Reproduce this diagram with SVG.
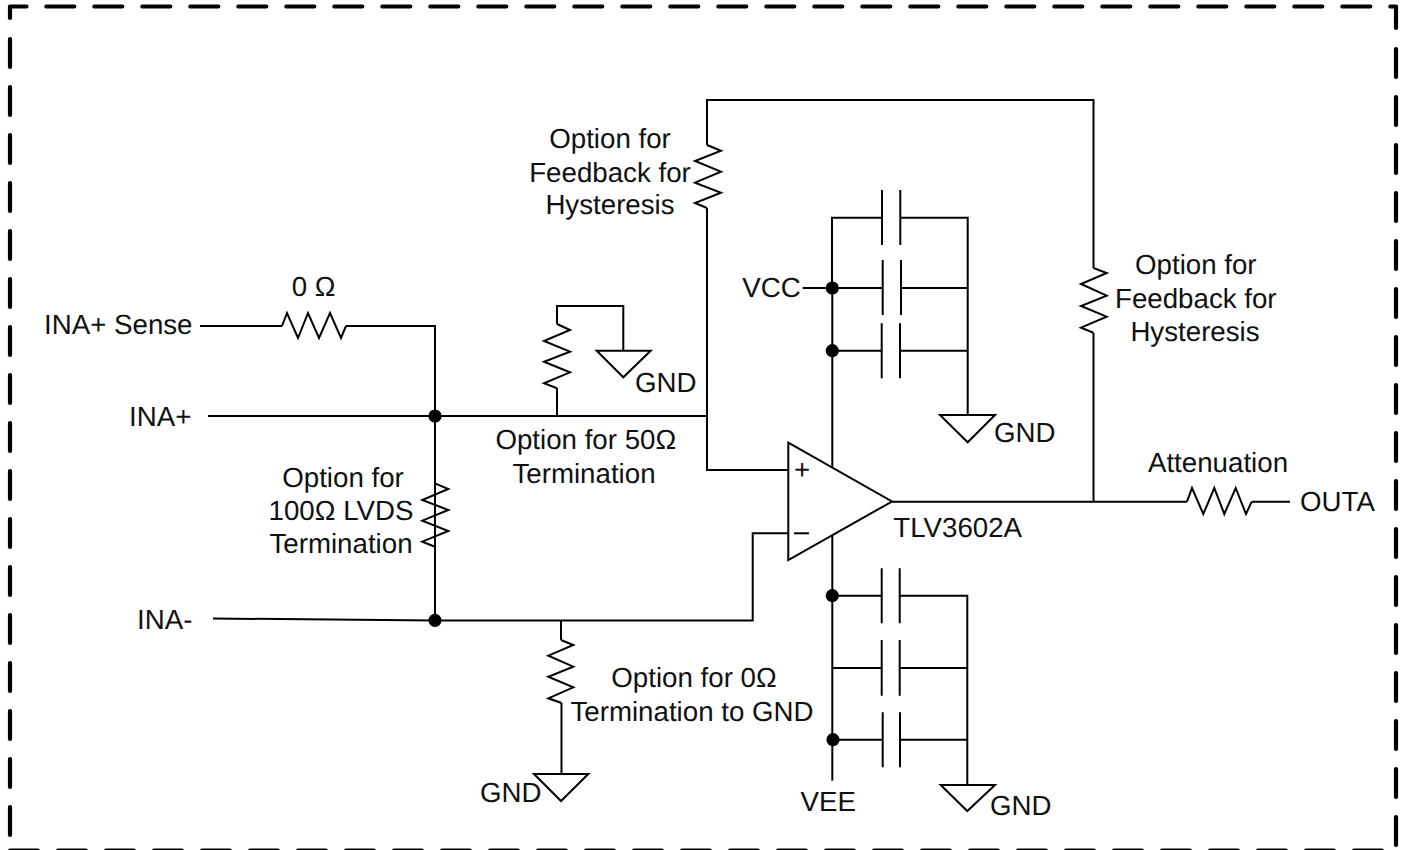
<svg xmlns="http://www.w3.org/2000/svg" width="1404" height="850" viewBox="0 0 1404 850">
<style>
.w{fill:none;stroke:#000;stroke-width:2;stroke-linejoin:miter;stroke-linecap:butt}
.b{fill:none;stroke:#000;stroke-width:4.2;stroke-linecap:round;stroke-linejoin:round}
.d{stroke-dasharray:28 20}
.dot{fill:#000}
text{font-family:"Liberation Sans",Arial,sans-serif;font-size:27.7px;fill:#111;text-rendering:geometricPrecision}
.m{text-anchor:middle}
</style>
<rect width="1404" height="850" fill="#fff"/>
<g id="border">
<path class="b" d="M26.5 6.5H10V18"/>
<path class="b d" d="M46.3 6.5H1396V28"/>
<path class="b d" d="M10 39V850"/>
<path class="b d" d="M1396 49V850"/>
<path class="b d" d="M10 850.5H1396"/>
</g>
<g id="connectors">
<path class="w" d="M200 326H282"/>
<path class="w" d="M346 326H435V620"/>
<path class="w" d="M208 416H707"/>
<path class="w" d="M213 618.5L435 620.5H752.7V533.3H788"/>
<path class="w" d="M707 145V100H1093.5V268"/>
<path class="w" d="M707 208V470H788"/>
<path class="w" d="M1093.5 333V501.7"/>
<path class="w" d="M892 501.7H1187"/>
<path class="w" d="M1252 501.7H1290"/>
<path class="w" d="M557 388V416"/>
<path class="w" d="M557 324V306H623.3V351"/>
<path class="w" d="M561 620V640"/>
<path class="w" d="M561.5 703V774"/>
<path class="w" d="M802.7 288H832.3"/>
<path class="w" d="M882 217.7H832V288M832.3 288V467"/>
<path class="w" d="M832.3 536V780.7"/>
<path class="w" d="M832.3 288H882.7M901 288H967.7"/>
<path class="w" d="M832.3 350.7H881.7M900 350.7H967.7"/>
<path class="w" d="M900.3 217.7H967.7V415"/>
<path class="w" d="M832.3 595.7H881.7M899.7 595.7H967.3V785"/>
<path class="w" d="M832.3 668H881.7M899.7 668H967.3"/>
<path class="w" d="M832.3 739.7H882.7M900 739.7H967.3"/>
</g>
<g id="junctions">
<circle class="dot" cx="435" cy="416" r="6.6"/>
<circle class="dot" cx="435" cy="620.3" r="6.6"/>
<circle class="dot" cx="832.3" cy="288" r="6.6"/>
<circle class="dot" cx="832.3" cy="350.7" r="6.6"/>
<circle class="dot" cx="832.3" cy="595.7" r="6.6"/>
<circle class="dot" cx="833" cy="739.7" r="6.6"/>
</g>
<g id="comparator">
<path class="w" d="M788.3 442.7L892 501.5L788.3 560Z"/>
<text x="802" y="478.5" class="m">+</text>
<path class="w" d="M794 533.3H809"/>
<text x="893.3" y="537.3">TLV3602A</text>
</g>
<g id="r-sense">
<path class="w" d="M282 326L287 313L298 338L308 313L319 338L330 313L341 338L346 326"/>
<text x="291.7" y="296">0 Ω</text>
</g>
<g id="r-50">
<path class="w" d="M557 324L570 330L544 341L570 351.7L544 361.7L570 372.3L544 383.3L557 388.3"/>
<text x="585.8" y="449.3" class="m">Option for 50Ω</text>
<text x="584" y="483.3" class="m">Termination</text>
</g>
<g id="r-lvds">
<path class="w" d="M435 483.3L448.3 489L422.3 500L448.3 510L422.3 520.7L448.3 531L422.3 541.7L435 546.7"/>
<text x="343" y="486.5" class="m">Option for</text>
<text x="341" y="520" class="m">100Ω LVDS</text>
<text x="341" y="553" class="m">Termination</text>
</g>
<g id="r-gnd">
<path class="w" d="M561 640L573.3 645L548.3 655.7L573.3 666.7L548.3 676.7L573.3 687.3L548.3 698.3L561.5 703"/>
<text x="694" y="687" class="m">Option for 0Ω</text>
<text x="692" y="720.5" class="m">Termination to GND</text>
</g>
<g id="r-fb1">
<path class="w" d="M707 145L721 150.7L695 161L721 171.7L695 182.7L721 192.7L695 203L707 208"/>
<text x="610" y="148" class="m">Option for</text>
<text x="610" y="181.7" class="m">Feedback for</text>
<text x="610" y="214.3" class="m">Hysteresis</text>
</g>
<g id="r-fb2">
<path class="w" d="M1093.5 268L1106.7 273L1081 284L1106.7 295.7L1081 306L1106.7 316.7L1081 327.7L1093.5 332.7"/>
<text x="1195.8" y="274.3" class="m">Option for</text>
<text x="1195.8" y="307.7" class="m">Feedback for</text>
<text x="1195" y="340.7" class="m">Hysteresis</text>
</g>
<g id="r-atten">
<path class="w" d="M1187 501.7L1192 488L1203.3 514L1214.3 488L1224.3 514L1235.7 488L1246 514L1251.7 501.7"/>
<text x="1218" y="471.7" class="m">Attenuation</text>
</g>
<g id="cap-top-1"><path class="w" d="M882 190V245M900.3 190V245"/></g>
<g id="cap-top-2"><path class="w" d="M882.7 260V315M901 260V315"/></g>
<g id="cap-top-3"><path class="w" d="M881.7 323.3V378.3M900 323.3V378.3"/></g>
<g id="cap-bot-1"><path class="w" d="M881.7 568.3V623.3M899.7 568.3V623.3"/></g>
<g id="cap-bot-2"><path class="w" d="M881.7 640V695.7M899.7 640V695.7"/></g>
<g id="cap-bot-3"><path class="w" d="M882.7 712.3V767.3M900 712.3V767.3"/></g>
<g id="gnd-50">
<path class="w" d="M596.7 350.7H650.7L623.3 377.3Z"/>
<text x="635" y="392.3">GND</text>
</g>
<g id="gnd-top">
<path class="w" d="M940 415H995L967.7 442.3Z"/>
<text x="994" y="442.3">GND</text>
</g>
<g id="gnd-bot">
<path class="w" d="M940.7 785H995L967.3 811Z"/>
<text x="990" y="815">GND</text>
</g>
<g id="gnd-term">
<path class="w" d="M534 774H588.3L561 801Z"/>
<text x="480" y="802.3">GND</text>
</g>
<g id="port-sense"><text x="44" y="334">INA+ Sense</text></g>
<g id="port-inp"><text x="129" y="425.7">INA+</text></g>
<g id="port-inm"><text x="137" y="629">INA-</text></g>
<g id="port-out"><text x="1300" y="510.7">OUTA</text></g>
<g id="port-vcc"><text x="742.3" y="297.3">VCC</text></g>
<g id="port-vee"><text x="828.3" y="810.7" class="m">VEE</text></g>
</svg>
